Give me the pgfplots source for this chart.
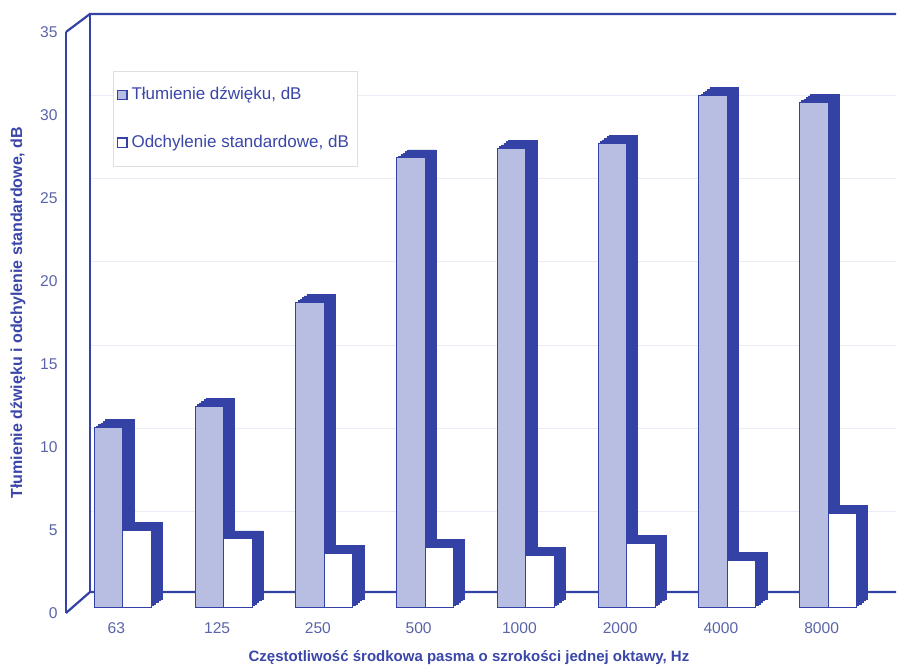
\documentclass[border=0pt]{standalone}
\usepackage{pgfplots}
\pgfplotsset{compat=1.18}
\usepackage{pgfplotstable}
\usepackage{fontspec}
\setmainfont{Liberation Sans}
\definecolor{dkblue}{RGB}{52,66,165}
\definecolor{ltblue}{RGB}{183,190,226}
\definecolor{txtblue}{RGB}{58,70,168}
\definecolor{tickblue}{RGB}{90,100,168}
\pgfplotstableread{
x T O
0 10.8 4.6
1 12.1 4.1
2 18.35 3.25
3 27.05 3.6
4 27.65 3.1
5 27.95 3.85
6 30.8 2.8
7 30.4 5.65
}\data
\pgfplotsset{
  Tbar/.style={ybar, bar width=14.25pt, bar shift=-3.9pt},
  Obar/.style={ybar, bar width=14.25pt, bar shift=10.35pt},
}
\begin{document}
\begin{tikzpicture}
\begin{axis}[
  scale only axis, width=403pt, height=290.5pt,
  xmin=-0.5, xmax=7.5, ymin=0, ymax=35,
  clip=false,
  axis x line*=bottom, axis y line*=left,
  x axis line style={draw=none},
  y axis line style={draw=dkblue, line width=1pt, -},
  major tick length=0pt,
  xtick={0,...,7},
  xticklabels={63,125,250,500,1000,2000,4000,8000},
  ytick={0,5,...,35},
  /pgf/number format/assume math mode=true,
  ticklabel style={font=\fontsize{7.8}{9}\selectfont, text=tickblue},
  yticklabel style={inner sep=0pt, xshift=-4pt},
  xticklabel style={inner sep=0pt, yshift=-4.5pt},
  xlabel={Częstotliwość środkowa pasma o szrokości jednej oktawy, Hz},
  ylabel={Tłumienie dźwięku i odchylenie standardowe, dB},
  xlabel style={at={(axis description cs:0.5,-0.0775)}, anchor=center, font=\fontsize{7.5}{9}\selectfont\bfseries, text=txtblue},
  ylabel style={at={(axis description cs:-0.0596,0.517)}, anchor=center, font=\fontsize{8}{9}\selectfont\bfseries, text=txtblue},
  legend style={at={(0.058,0.933)}, anchor=north west, draw=gray!25, line width=0.4pt,
    font=\fontsize{8.5}{10}\selectfont, text=txtblue, inner ysep=6pt, inner xsep=2pt, row sep=12pt,
    legend cell align=left},
]
\coordinate (FSW) at (rel axis cs:0,0);
\coordinate (FNE) at (rel axis cs:1,1);
% back wall grid
\pgfplotsinvokeforeach{5,10,15,20,25,30}{
  \draw[dkblue!10, line width=0.5pt] ([shift={(12pt,9.5pt)}]axis cs:-0.5,#1) -- ([shift={(12pt,9.5pt)}]axis cs:7.5,#1);
}
% wall and floor
\draw[dkblue, line width=1.1pt] (axis cs:-0.5,35) -- ([shift={(12pt,9pt)}]axis cs:-0.5,35) -- ([shift={(12pt,9pt)}]axis cs:7.5,35);
\draw[dkblue, line width=1.1pt] (axis cs:-0.5,0) -- ([shift={(12pt,10.5pt)}]axis cs:-0.5,0) -- ([shift={(12pt,10.5pt)}]axis cs:7.5,0);
\draw[dkblue, line width=1.1pt] ([shift={(12pt,9pt)}]axis cs:-0.5,35) -- ([shift={(12pt,10.5pt)}]axis cs:-0.5,0);
% legend images
\addlegendimage{legend image code/.code={\draw[fill=ltblue,draw=dkblue,line width=0.6pt] (0pt,-2.3pt) rectangle (4.6pt,2.3pt);}}
\addlegendentry{Tłumienie dźwięku, dB}
\addlegendimage{legend image code/.code={\draw[fill=white,draw=dkblue,line width=0.6pt] (0pt,-2.3pt) rectangle (4.6pt,2.3pt);}}
\addlegendentry{Odchylenie standardowe, dB}
% Tlumienie bars: depth then front
\pgfplotsinvokeforeach{5,4,3,2,1}{
  \addplot[Tbar, fill=dkblue, draw=dkblue, line width=0.3pt, xshift=#1*1.1pt, yshift=3pt+#1*0.8pt, forget plot] table[x=x,y=T]{\data};
}
\addplot[Tbar, fill=ltblue, draw=dkblue, line width=0.5pt, yshift=3pt, forget plot] table[x=x,y=T]{\data};
% Odchylenie bars
\pgfplotsinvokeforeach{5,4,3,2,1}{
  \addplot[Obar, fill=dkblue, draw=dkblue, line width=0.3pt, xshift=#1*1.1pt, yshift=3pt+#1*0.8pt, forget plot] table[x=x,y=O]{\data};
}
\addplot[Obar, fill=white, draw=dkblue, line width=0.5pt, yshift=3pt, forget plot] table[x=x,y=O]{\data};
\end{axis}
\pgfresetboundingbox
\path ([shift={(-33pt,-27.5pt)}]FSW) rectangle ([shift={(12.5pt,16pt)}]FNE);
\end{tikzpicture}
\end{document}
